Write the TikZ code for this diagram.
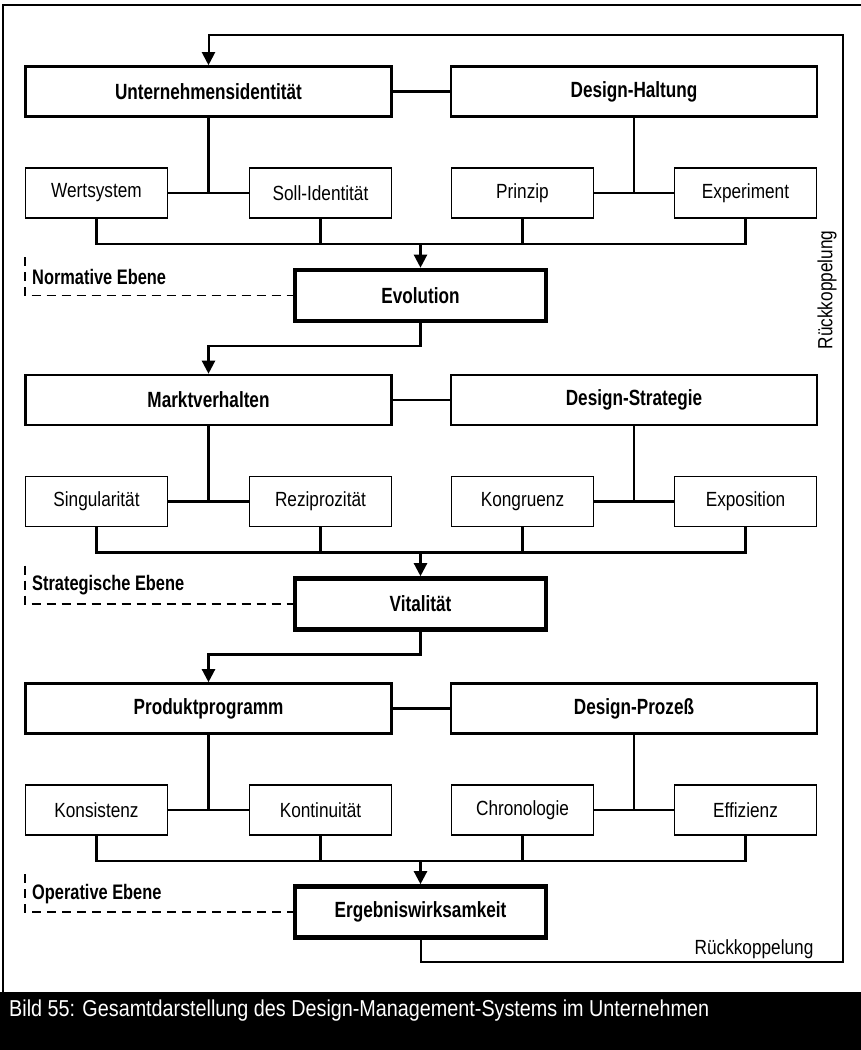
\documentclass[tikz,border=0pt]{standalone}
\usepackage{fontspec}
\setmainfont{Liberation Sans}
\newfontfamily\hdfont[FakeStretch=0.78]{Liberation Sans}
\newfontfamily\rgfont[FakeStretch=0.84]{Liberation Sans}
\newfontfamily\capfont[FakeStretch=0.86]{Liberation Sans}
\usetikzlibrary{arrows.meta,calc}
\tikzset{
  mainbox/.style={draw, line width=2.6pt, minimum width=366pt, minimum height=50pt, inner sep=0pt,
    font=\hdfont\bfseries\fontsize{22}{25}\selectfont},
  subbox/.style={draw, line width=1.2pt, minimum width=142pt, minimum height=50pt, inner sep=0pt,
    font=\rgfont\fontsize{20.5}{23}\selectfont},
  corebox/.style={draw, line width=4.6pt, minimum width=251pt, minimum height=51pt, inner sep=0pt,
    font=\hdfont\bfseries\fontsize{22}{25}\selectfont},
  lvl/.style={anchor=west, inner sep=0pt, font=\hdfont\bfseries\fontsize{21}{24}\selectfont},
  rgtext/.style={inner sep=0pt, font=\rgfont\fontsize{20.5}{23}\selectfont},
  conn/.style={line width=2.3pt},
  arr/.style={line width=2.3pt, -{Triangle[width=13pt,length=13pt]}},
  fbarr/.style={line width=2pt, -{Triangle[width=13pt,length=13pt]}},
  dsh/.style={line width=1.5pt, dash pattern=on 9pt off 6pt},
}
\begin{document}
\begin{tikzpicture}[x=1pt,y=-1pt]
\useasboundingbox (0,0) rectangle (861,1050);
% outer frame and caption band
\fill[black] (0,992) rectangle (861,1050);
\draw[line width=1.8pt] (3,993) -- (3,5) -- (861,5);
\node[anchor=west, inner sep=0pt, text=white, font=\capfont\fontsize{23}{26}\selectfont] (cap) at (9,1011)
  {Bild 55: Gesamtdarstellung des Design-Management-Systems im Unternehmen};

% ---------- Level 1 ----------
\node[mainbox] (A1) at (208.5,91.5) {Unternehmensidentität};
\node[mainbox] (B1) at (634,91.5) {Design-Haltung};
\node[subbox] (s11) at (96.5,193) {Wertsystem};
\node[subbox] (s12) at (320.5,193) {Soll-Identität};
\node[subbox] (s13) at (522.5,193) {Prinzip};
\node[subbox] (s14) at (745.5,193) {Experiment};
\node[corebox] (C1) at (420.5,295.5) {Evolution};
\node[lvl] (L1) at (32,277) {Normative Ebene};
\coordinate (bus1) at (0,244);
\coordinate (t1) at (25,257);
\coordinate (d1) at (25,295.5);
\coordinate (j1) at (0,346);

\draw[conn] (A1.east) -- (B1.west);
\draw[conn] (A1.south) -- (A1.south |- s11.east);
\draw[conn] (s11.east) -- (s12.west);
\draw[conn] (B1.south) -- (B1.south |- s13.east);
\draw[conn] (s13.east) -- (s14.west);
\draw[conn] (s11.south) -- (s11.south |- bus1) -- (s14.south |- bus1) -- (s14.south);
\draw[conn] (s12.south) -- (s12.south |- bus1);
\draw[conn] (s13.south) -- (s13.south |- bus1);
\draw[arr] (C1.north |- bus1) -- (C1.north);
\draw[dsh] (t1) -- (d1) -- (C1.west);

% ---------- Level 2 ----------
\node[mainbox] (A2) at (208.5,400) {Marktverhalten};
\node[mainbox] (B2) at (634,400) {Design-Strategie};
\node[subbox] (s21) at (96.5,501.5) {Singularität};
\node[subbox] (s22) at (320.5,501.5) {Reziprozität};
\node[subbox] (s23) at (522.5,501.5) {Kongruenz};
\node[subbox] (s24) at (745.5,501.5) {Exposition};
\node[corebox] (C2) at (420.5,604) {Vitalität};
\node[lvl] (L2) at (32,585.5) {Strategische Ebene};
\coordinate (bus2) at (0,552.5);
\coordinate (t2) at (25,565.5);
\coordinate (d2) at (25,604);
\coordinate (j2) at (0,654.5);

\draw[arr] (C1.south) -- (C1.south |- j1) -- (A2.north |- j1) -- (A2.north);
\draw[conn] (A2.east) -- (B2.west);
\draw[conn] (A2.south) -- (A2.south |- s21.east);
\draw[conn] (s21.east) -- (s22.west);
\draw[conn] (B2.south) -- (B2.south |- s23.east);
\draw[conn] (s23.east) -- (s24.west);
\draw[conn] (s21.south) -- (s21.south |- bus2) -- (s24.south |- bus2) -- (s24.south);
\draw[conn] (s22.south) -- (s22.south |- bus2);
\draw[conn] (s23.south) -- (s23.south |- bus2);
\draw[arr] (C2.north |- bus2) -- (C2.north);
\draw[dsh] (t2) -- (d2) -- (C2.west);

% ---------- Level 3 ----------
\node[mainbox] (A3) at (208.5,708.5) {Produktprogramm};
\node[mainbox] (B3) at (634,708.5) {Design-Prozeß};
\node[subbox] (s31) at (96.5,810) {Konsistenz};
\node[subbox] (s32) at (320.5,810) {Kontinuität};
\node[subbox] (s33) at (522.5,810) {Chronologie};
\node[subbox] (s34) at (745.5,810) {Effizienz};
\node[corebox] (C3) at (420.5,912) {Ergebniswirksamkeit};
\node[lvl] (L3) at (32,894) {Operative Ebene};
\coordinate (bus3) at (0,861);
\coordinate (t3) at (25,874);
\coordinate (d3) at (25,912);

\draw[arr] (C2.south) -- (C2.south |- j2) -- (A3.north |- j2) -- (A3.north);
\draw[conn] (A3.east) -- (B3.west);
\draw[conn] (A3.south) -- (A3.south |- s31.east);
\draw[conn] (s31.east) -- (s32.west);
\draw[conn] (B3.south) -- (B3.south |- s33.east);
\draw[conn] (s33.east) -- (s34.west);
\draw[conn] (s31.south) -- (s31.south |- bus3) -- (s34.south |- bus3) -- (s34.south);
\draw[conn] (s32.south) -- (s32.south |- bus3);
\draw[conn] (s33.south) -- (s33.south |- bus3);
\draw[arr] (C3.north |- bus3) -- (C3.north);
\draw[dsh] (t3) -- (d3) -- (C3.west);

% ---------- feedback loop ----------
\coordinate (fb1) at (0,962);
\coordinate (fb2) at (843,962);
\coordinate (fb3) at (843,35);
\draw[fbarr] (C3.south) -- (C3.south |- fb1) -- (fb2) -- (fb3) -- (A1.north |- fb3) -- (A1.north);
\node[rgtext] (rk1) at (754,949) {Rückkoppelung};
\node[rgtext, rotate=90] (rk2) at (827,290) {Rückkoppelung};
\end{tikzpicture}
\end{document}
